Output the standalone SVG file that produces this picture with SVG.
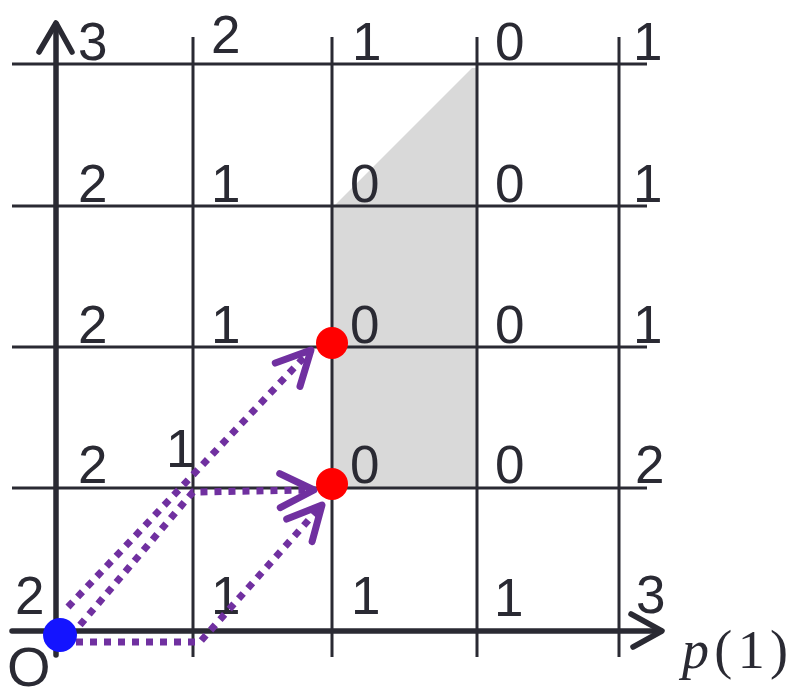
<svg xmlns="http://www.w3.org/2000/svg" width="794" height="692" viewBox="0 0 794 692">
<style>
.grid{stroke:#2a2a33;stroke-width:3;fill:none}
.axis{stroke:#2a2a33;stroke-width:5.5;fill:none;stroke-linecap:round;stroke-linejoin:round}
.lbl{font-family:"Liberation Sans",Arial,sans-serif;font-size:53px;fill:#2a2a33}
.math{font-family:"Liberation Serif","Times New Roman",serif;font-size:54px;fill:#2a2a33}
.conn{stroke:#7030A0;stroke-width:7;fill:none;stroke-dasharray:7 7;marker-end:url(#chev)}
</style>
<defs>
<marker id="chev" markerUnits="userSpaceOnUse" markerWidth="60" markerHeight="60" viewBox="-45 -30 60 60" refX="0" refY="0" orient="auto">
<path d="M-34,-17 L0,0 L-34,17" fill="none" stroke="#7030A0" stroke-width="7" stroke-linecap="round" stroke-linejoin="round"/>
</marker>
</defs>
<rect width="794" height="692" fill="#ffffff"/>
<g id="shaded">
<polygon points="333,207 472,68 477,68 477,488 333,488" fill="#d9d9d9"/>
</g>
<g id="grid">
<line class="grid" x1="12" y1="64" x2="647" y2="64"/>
<line class="grid" x1="12" y1="206" x2="647" y2="206"/>
<line class="grid" x1="12" y1="347" x2="647" y2="347"/>
<line class="grid" x1="12" y1="488" x2="647" y2="488"/>
<line class="grid" x1="193" y1="37" x2="193" y2="657"/>
<line class="grid" x1="332" y1="37" x2="332" y2="657"/>
<line class="grid" x1="477" y1="37" x2="477" y2="657"/>
<line class="grid" x1="619" y1="37" x2="619" y2="657"/>
</g>
<g id="axes">
<line class="axis" x1="56" y1="655" x2="56" y2="24"/>
<polyline class="axis" points="39,52 56,23 72,52"/>
<line class="axis" x1="12" y1="631" x2="661" y2="631"/>
<polyline class="axis" points="631,614 662,631 633,647"/>
</g>
<g id="labels">
<text class="lbl" x="78" y="60">3</text>
<text class="lbl" x="211" y="53">2</text>
<text class="lbl" x="352" y="60">1</text>
<text class="lbl" x="495" y="60">0</text>
<text class="lbl" x="633" y="60">1</text>
<text class="lbl" x="78" y="202">2</text>
<text class="lbl" x="211" y="202">1</text>
<text class="lbl" x="350" y="202">0</text>
<text class="lbl" x="495" y="202">0</text>
<text class="lbl" x="633" y="202">1</text>
<text class="lbl" x="78" y="343">2</text>
<text class="lbl" x="211" y="343">1</text>
<text class="lbl" x="350" y="343">0</text>
<text class="lbl" x="495" y="343">0</text>
<text class="lbl" x="633" y="343">1</text>
<text class="lbl" x="78" y="483">2</text>
<text class="lbl" x="166" y="467">1</text>
<text class="lbl" x="350" y="483">0</text>
<text class="lbl" x="495" y="483">0</text>
<text class="lbl" x="635" y="483">2</text>
<text class="lbl" x="15" y="614">2</text>
<text class="lbl" x="211" y="614">1</text>
<text class="lbl" x="351" y="614">1</text>
<text class="lbl" x="494" y="616">1</text>
<text class="lbl" x="636" y="613">3</text>
<text class="lbl" x="7" y="686" style="font-size:56px">O</text>
<text class="math" x="682" y="668" textLength="106" lengthAdjust="spacing"><tspan font-style="italic">p</tspan>(1)</text>
</g>
<g id="connectors">
<polyline class="conn" points="68,607 311,350"/>
<polyline class="conn" points="80,625 193,492 314,490"/>
<polyline class="conn" points="76,642 200,642 322,505"/>
</g>
<g id="node-origin">
<circle cx="60" cy="635" r="17" fill="#1414ff"/>
</g>
<g id="node-target-upper">
<circle cx="332" cy="343" r="16" fill="#ff0000"/>
</g>
<g id="node-target-lower">
<circle cx="332" cy="484" r="16" fill="#ff0000"/>
</g>
</svg>
